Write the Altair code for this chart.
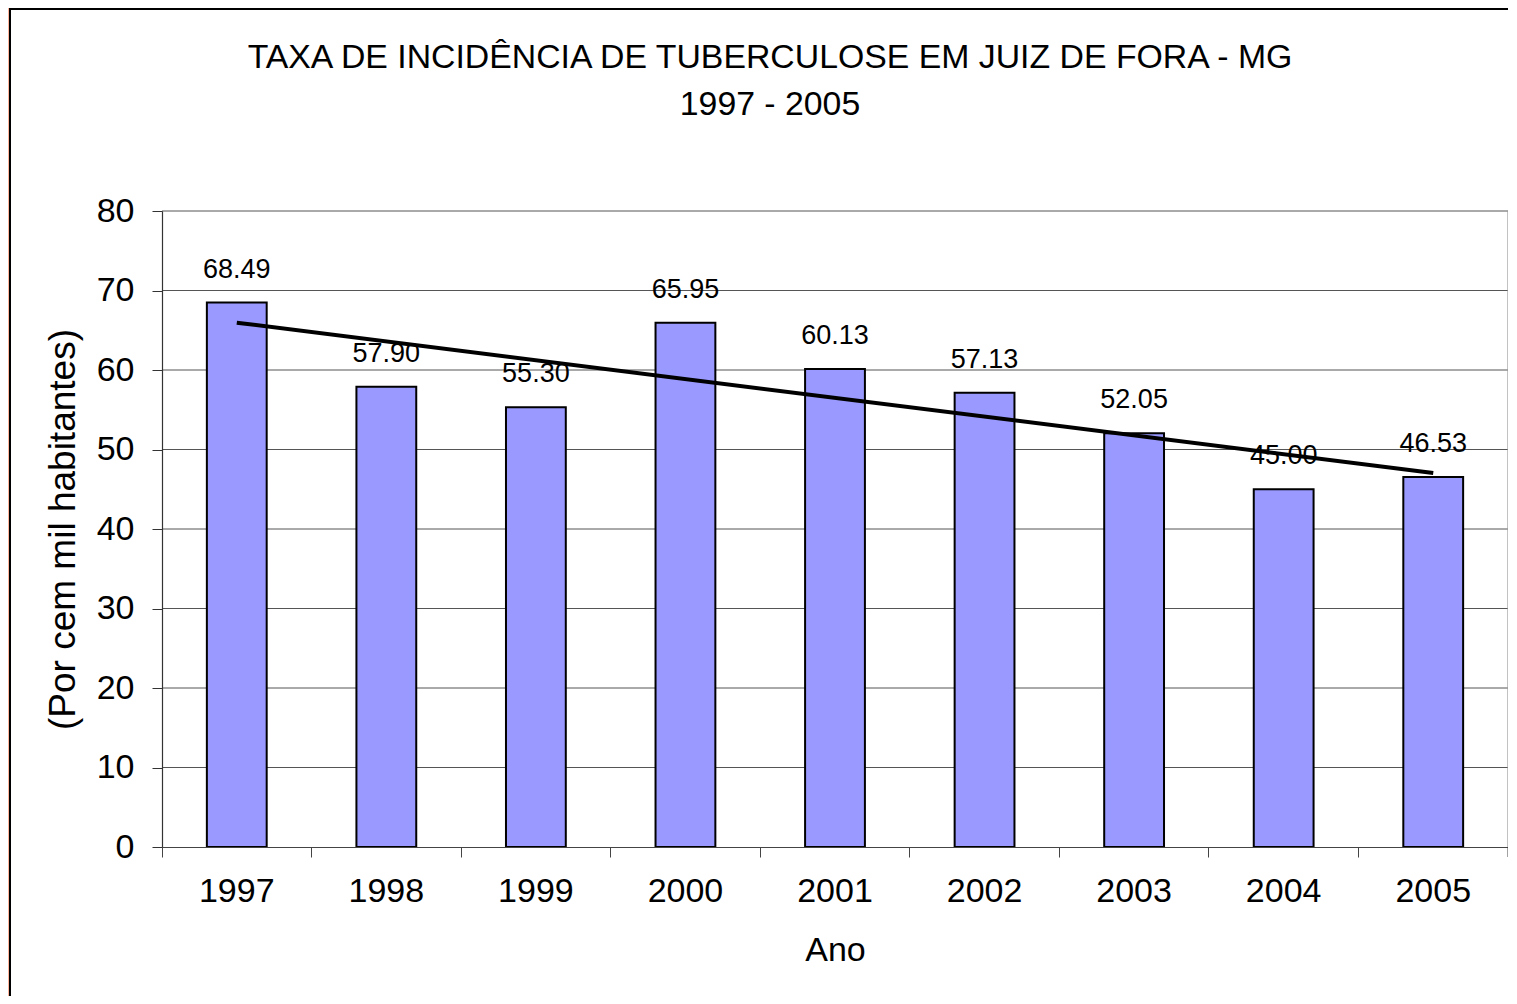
import altair as alt
import pandas as pd

years = [1997, 1998, 1999, 2000, 2001, 2002, 2003, 2004, 2005]
rates = [68.49, 57.90, 55.30, 65.95, 60.13, 57.13, 52.05, 45.00, 46.53]
y_ticks = [0, 10, 20, 30, 40, 50, 60, 70, 80]
grid_vals = [10, 20, 30, 40, 50, 60, 70, 80]

title_lines = ["TAXA DE INCIDÊNCIA DE TUBERCULOSE EM JUIZ DE FORA - MG", "1997 - 2005"]
y_title = "(Por cem mil habitantes)"
x_title = "Ano"

FONT = "Liberation Sans"
W, H = 1346, 636

df = pd.DataFrame({"year": years, "value": rates})
grid_df = pd.DataFrame({"value": grid_vals})
one = pd.DataFrame({"k": [0]})

x_enc = alt.X(
    "year:O",
    scale=alt.Scale(paddingInner=0, paddingOuter=0),
    axis=alt.Axis(
        title=x_title, labelAngle=0, bandPosition=0, tickSize=10,
        labelFontSize=34, labelFont=FONT, labelColor="black", labelPadding=17,
        titleFontSize=34, titleFont=FONT, titleFontWeight="normal", titleColor="black",
        titlePadding=25, domainColor="#444", tickColor="#444", domainWidth=1.2,
        grid=False, zindex=1,
    ),
)
y_enc = alt.Y(
    "value:Q",
    scale=alt.Scale(domain=[0, 80], nice=False, zero=True),
    axis=alt.Axis(
        title=y_title, values=y_ticks, tickSize=10,
        labelFontSize=34, labelFont=FONT, labelColor="black", labelPadding=18,
        titleFontSize=37, titleFont=FONT, titleFontWeight="normal", titleColor="black",
        titlePadding=14, domainColor="#333", tickColor="#333", domainWidth=1.2,
        grid=False, zindex=1,
    ),
)

frame = alt.Chart(one).mark_rect(fill="white", stroke="black", strokeWidth=2).encode(
    x=alt.value(-152), x2=alt.value(W + 40), y=alt.value(-202), y2=alt.value(H + 200)
)

grid = alt.Chart(grid_df).mark_rule(color="#555", strokeWidth=1).encode(y=y_enc)

right_border = alt.Chart(one).mark_rule(color="#999", strokeWidth=1.2).encode(
    x=alt.value(W), y=alt.value(0), y2=alt.value(H)
)
end_tick = alt.Chart(one).mark_rule(color="#444", strokeWidth=1).encode(
    x=alt.value(W), y=alt.value(H), y2=alt.value(H + 10)
)

bars = alt.Chart(df).mark_bar(
    width=alt.RelativeBandSize(0.4), color="#9999FF", stroke="black", strokeWidth=2
).encode(x=x_enc, y=y_enc)

labels = alt.Chart(df).mark_text(
    fontSize=27, font=FONT, color="black", baseline="alphabetic", dy=-25
).encode(x=x_enc, y=y_enc, text=alt.Text("value:Q", format=".2f"))

trend = alt.Chart(df).transform_regression("year", "value").mark_line(
    color="black", strokeWidth=4
).encode(x=x_enc, y=y_enc)

chart = alt.layer(frame, grid, right_border, end_tick, bars, labels, trend).properties(
    width=W,
    height=H,
    title=alt.Title(
        title_lines, fontSize=33.8, font=FONT, fontWeight="normal", color="black",
        lineHeight=47, dx=-65, dy=192, offset=78, anchor="middle", frame="group",
    ),
    padding={"left": 154, "top": 203, "right": 0, "bottom": 149},
    autosize=alt.AutoSizeParams(type="none"),
).configure(background="#FFB59C").configure_view(stroke=None)

chart.save("out.html", embed_options={"renderer": "svg", "actions": False})
